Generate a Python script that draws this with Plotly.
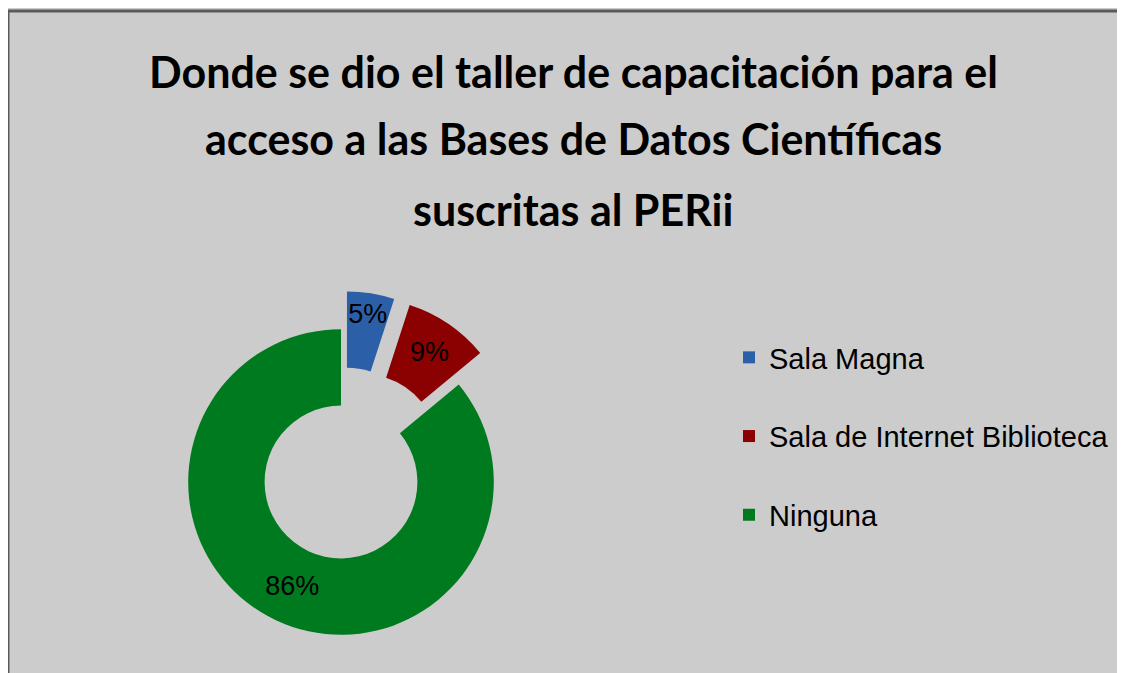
import plotly.graph_objects as go

# datos del grafico
labels = ["Sala Magna", "Sala de Internet Biblioteca", "Ninguna"]
values = [5, 9, 86]
colors = ["#2B5FA8", "#8B0000", "#007A1E"]
pulls = [0.25, 0.25, 0]
title_lines = ["Donde se dio el taller de capacitación para el",
               "acceso a las Bases de Datos Científicas",
               "suscritas al PERii"]

# la pagina tiene 8px de margen, la figura ocupa el resto
W, H = 1117, 665
bg = "#CCCCCC"

cx, cy, half = 333, 474, 191   # centro y medio lado del dominio del pie

fig = go.Figure()

fig.add_trace(go.Pie(
    labels=labels, values=values, sort=False, direction="clockwise", rotation=0,
    hole=0.5, pull=pulls,
    marker=dict(colors=colors, line=dict(width=0)),
    texttemplate="%{percent:.0%}", textposition="inside",
    insidetextorientation="horizontal",
    textfont=dict(family="Liberation Sans", size=27, color="black"),
    domain=dict(x=[(cx - half) / W, (cx + half) / W], y=[(H - cy - half) / H, (H - cy + half) / H]),
    showlegend=False, hoverinfo="label+percent",
))

# leyenda con cuadros
for i, lab in enumerate(labels):
    fig.add_trace(go.Scatter(
        x=[None], y=[None], mode="markers", name=lab, legendgroup=lab,
        marker=dict(symbol="square", size=12, color=colors[i]),
    ))

ys = [64, 131, 201]
annots = []
for line, yy in zip(title_lines, ys):
    annots.append(dict(text=line, x=565 / W, y=1 - yy / H, xref="paper", yref="paper",
                       showarrow=False, xanchor="center", yanchor="middle",
                       font=dict(family="Lato", size=43, color="black", weight="bold")))

fig.update_layout(
    width=W, height=H,
    margin=dict(l=0, r=0, t=0, b=0),
    paper_bgcolor="white", plot_bgcolor=bg,
    xaxis=dict(visible=False), yaxis=dict(visible=False),
    annotations=annots,
    uniformtext=dict(minsize=27, mode="show"),
    legend=dict(x=721 / W, y=1 - 324 / H, xanchor="left", yanchor="top",
                bgcolor="rgba(0,0,0,0)", tracegroupgap=38,
                font=dict(family="Liberation Sans", size=29, color="black")),
    shapes=[dict(type="rect", xref="paper", yref="paper", x0=0, x1=1.05, y0=-0.05, y1=1 - 3 / H,
                 fillcolor=bg, line=dict(color="#5A5A5A", width=3), layer="below")],
)

fig.write_html("out.html")
